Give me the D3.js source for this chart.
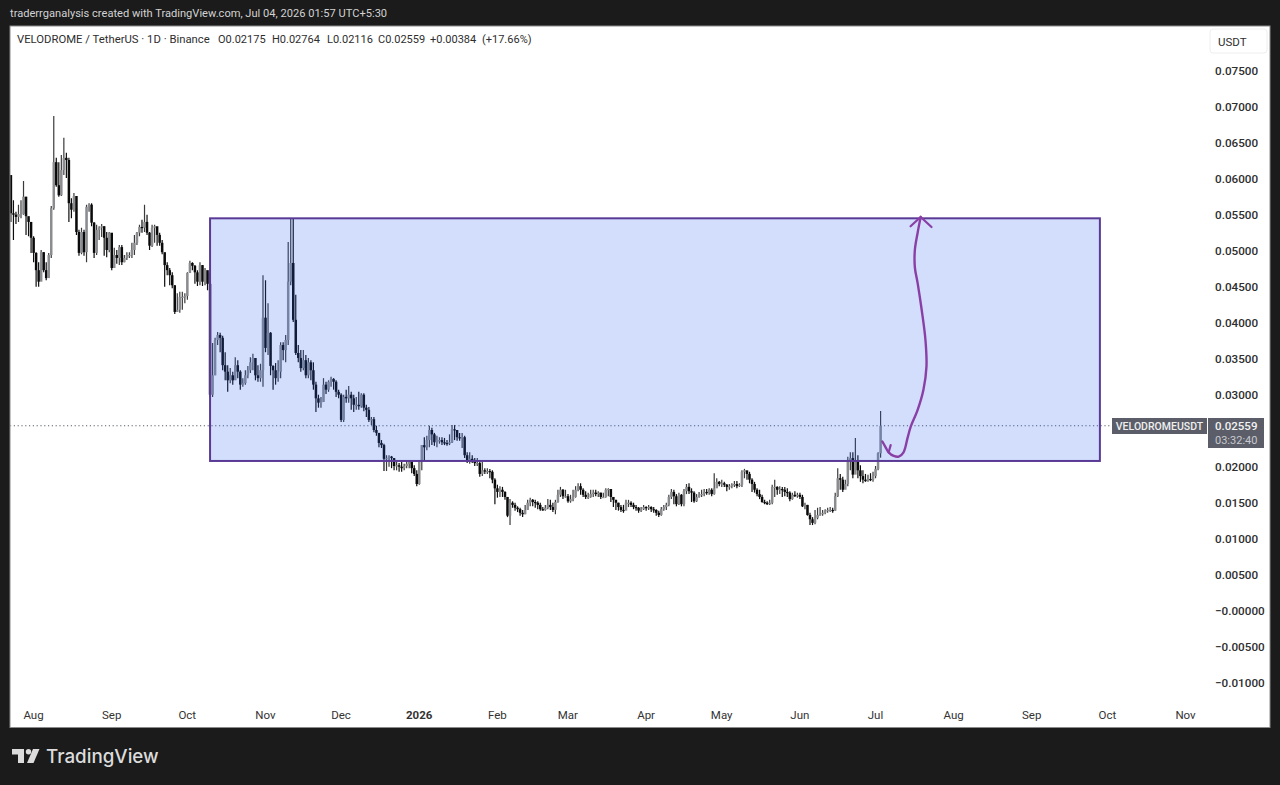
<!DOCTYPE html>
<html><head><meta charset="utf-8">
<script src="https://cdn.jsdelivr.net/npm/d3@7"></script>
<style>html,body{margin:0;padding:0;background:#1b1b1b;overflow:hidden}svg{display:block}</style>
</head><body><svg id="c" width="1280" height="785"></svg>
<script>
const firstDay = "2025-07-23";
const firstOpen = 0.0604;
const closes = [.0551,.0549,.0546,.0550,.0550,.0574,.0547,.0539,.0517,.0496,
.0472,.0456,.0497,.0472,.0461,.0493,.0558,.0622,.0590,.0576,
.0611,.0628,.0625,.0565,.0556,.0575,.0525,.0496,.0525,.0497,
.0560,.0563,.0538,.0496,.0528,.0531,.0533,.0517,.0500,.0524,
.0475,.0493,.0489,.0504,.0483,.0489,.0493,.0493,.0500,.0510,
.0524,.0532,.0531,.0539,.0524,.0506,.0531,.0533,.0521,.0510,
.0497,.0479,.0472,.0465,.0451,.0414,.0417,.0435,.0435,.0436,
.0468,.0482,.0478,.0469,.0456,.0479,.0456,.0472,.0453,.0299,
.0326,.0375,.0382,.0378,.0340,.0331,.0319,.0326,.0319,.0340,
.0331,.0313,.0315,.0326,.0333,.0344,.0350,.0326,.0322,.0333,
.0406,.0364,.0385,.0339,.0333,.0322,.0331,.0368,.0361,.0375,
.0456,.0482,.0403,.0357,.0350,.0336,.0347,.0326,.0344,.0333,
.0313,.0294,.0288,.0289,.0313,.0306,.0317,.0321,.0317,.0303,
.0299,.0264,.0296,.0294,.0299,.0294,.0285,.0285,.0283,.0299,
.0281,.0278,.0264,.0265,.0250,.0246,.0232,.0229,.0210,.0211,
.0213,.0211,.0200,.0201,.0199,.0197,.0200,.0203,.0206,.0197,
.0189,.0175,.0206,.0229,.0226,.0236,.0250,.0244,.0233,.0236,
.0236,.0233,.0232,.0231,.0233,.0251,.0250,.0240,.0239,.0240,
.0215,.0206,.0210,.0207,.0204,.0204,.0189,.0194,.0193,.0193,
.0192,.0181,.0169,.0164,.0167,.0164,.0157,.0131,.0149,.0146,
.0142,.0140,.0135,.0133,.0139,.0149,.0153,.0150,.0149,.0146,
.0140,.0139,.0142,.0146,.0143,.0139,.0150,.0160,.0167,.0158,
.0158,.0151,.0154,.0157,.0167,.0172,.0167,.0160,.0157,.0157,
.0161,.0163,.0161,.0163,.0157,.0157,.0167,.0168,.0157,.0153,
.0149,.0143,.0139,.0138,.0149,.0149,.0146,.0143,.0142,.0138,
.0140,.0143,.0142,.0143,.0140,.0139,.0135,.0132,.0140,.0143,
.0146,.0157,.0164,.0158,.0147,.0160,.0147,.0165,.0171,.0165,
.0163,.0151,.0157,.0160,.0161,.0164,.0163,.0167,.0161,.0169,
.0178,.0175,.0176,.0174,.0171,.0172,.0174,.0175,.0172,.0174,
.0192,.0194,.0189,.0181,.0175,.0167,.0161,.0157,.0150,.0149,
.0147,.0149,.0171,.0171,.0167,.0168,.0167,.0164,.0163,.0154,
.0160,.0158,.0160,.0157,.0144,.0146,.0132,.0126,.0121,.0128,
.0132,.0133,.0135,.0138,.0139,.0139,.0138,.0158,.0183,.0181,
.0167,.0175,.0208,.0211,.0188,.0206,.0194,.0186,.0181,.0179,
.0182,.0181,.0186,.0196,.02175,.02559];
const highs = [.0604,.0569,.0553,.0563,.0569,.0596,.0574,.0544,.0539,.0519,
.0497,.0483,.0500,.0497,.0483,.0496,.0561,.0686,.0628,.0622,
.0632,.0656,.0635,.0628,.0572,.0579,.0558,.0528,.0531,.0528,
.0563,.0565,.0565,.0539,.0535,.0533,.0536,.0533,.0525,.0525,
.0514,.0503,.0500,.0507,.0507,.0493,.0497,.0497,.0510,.0521,
.0525,.0535,.0542,.0563,.0549,.0525,.0535,.0535,.0531,.0524,
.0514,.0496,.0483,.0475,.0469,.0451,.0440,.0442,.0442,.0440,
.0469,.0485,.0483,.0479,.0472,.0483,.0479,.0475,.0469,.0468,
.0371,.0378,.0386,.0385,.0381,.0358,.0340,.0336,.0331,.0351,
.0347,.0333,.0322,.0333,.0339,.0351,.0356,.0350,.0340,.0342,
.0465,.0458,.0426,.0386,.0340,.0343,.0347,.0372,.0372,.0382,
.0511,.0544,.0544,.0438,.0368,.0361,.0361,.0354,.0350,.0347,
.0344,.0317,.0299,.0296,.0322,.0317,.0319,.0324,.0322,.0319,
.0306,.0301,.0299,.0306,.0311,.0303,.0299,.0296,.0303,.0301,
.0301,.0285,.0282,.0268,.0268,.0256,.0246,.0236,.0231,.0215,
.0215,.0214,.0211,.0206,.0204,.0206,.0203,.0208,.0208,.0206,
.0201,.0194,.0208,.0229,.0240,.0242,.0256,.0253,.0246,.0242,
.0240,.0240,.0239,.0236,.0244,.0257,.0257,.0250,.0246,.0246,
.0242,.0219,.0219,.0215,.0211,.0211,.0206,.0206,.0197,.0197,
.0196,.0194,.0183,.0174,.0172,.0171,.0165,.0157,.0154,.0151,
.0149,.0144,.0142,.0139,.0146,.0153,.0156,.0154,.0153,.0151,
.0149,.0143,.0146,.0154,.0153,.0149,.0153,.0167,.0171,.0168,
.0167,.0161,.0160,.0167,.0172,.0176,.0176,.0169,.0165,.0163,
.0167,.0167,.0167,.0165,.0163,.0163,.0169,.0169,.0167,.0156,
.0153,.0149,.0146,.0146,.0153,.0153,.0151,.0149,.0146,.0143,
.0143,.0146,.0144,.0146,.0144,.0143,.0140,.0138,.0143,.0146,
.0149,.0160,.0168,.0167,.0161,.0163,.0161,.0168,.0175,.0176,
.0169,.0165,.0161,.0164,.0167,.0168,.0168,.0169,.0169,.0190,
.0183,.0179,.0181,.0178,.0175,.0175,.0176,.0179,.0179,.0176,
.0194,.0196,.0193,.0192,.0183,.0178,.0169,.0167,.0160,.0153,
.0151,.0153,.0174,.0181,.0172,.0172,.0171,.0171,.0169,.0165,
.0163,.0165,.0163,.0163,.0160,.0149,.0146,.0135,.0129,.0139,
.0142,.0143,.0139,.0140,.0142,.0143,.0142,.0163,.0197,.0189,
.0185,.0181,.0213,.0219,.0219,.0239,.0215,.0201,.0194,.0189,
.0188,.0190,.0192,.0200,.0219,.02764];
const lows = [.0539,.0514,.0536,.0539,.0544,.0549,.0521,.0519,.0496,.0483,
.0449,.0449,.0469,.0469,.0458,.0469,.0489,.0556,.0588,.0574,
.0575,.0604,.0600,.0539,.0544,.0553,.0521,.0492,.0494,.0492,
.0483,.0553,.0533,.0489,.0493,.0514,.0518,.0492,.0490,.0497,
.0472,.0483,.0481,.0479,.0479,.0483,.0486,.0489,.0489,.0493,
.0507,.0519,.0524,.0525,.0521,.0500,.0504,.0510,.0506,.0506,
.0494,.0449,.0465,.0451,.0447,.0411,.0414,.0413,.0417,.0426,
.0431,.0469,.0472,.0453,.0450,.0451,.0450,.0451,.0444,.0296,
.0296,.0326,.0368,.0358,.0333,.0319,.0303,.0315,.0313,.0322,
.0322,.0306,.0310,.0313,.0322,.0329,.0333,.0319,.0317,.0317,
.0310,.0358,.0354,.0326,.0306,.0313,.0317,.0322,.0347,.0344,
.0368,.0451,.0400,.0354,.0344,.0331,.0333,.0322,.0322,.0319,
.0306,.0275,.0281,.0281,.0289,.0300,.0303,.0310,.0306,.0296,
.0294,.0261,.0261,.0288,.0288,.0278,.0275,.0278,.0278,.0281,
.0276,.0268,.0261,.0257,.0247,.0242,.0226,.0225,.0193,.0193,
.0199,.0197,.0194,.0194,.0192,.0192,.0194,.0197,.0197,.0190,
.0186,.0172,.0174,.0194,.0208,.0222,.0226,.0229,.0228,.0226,
.0231,.0229,.0229,.0228,.0229,.0232,.0236,.0235,.0235,.0225,
.0211,.0204,.0203,.0204,.0200,.0200,.0185,.0186,.0189,.0189,
.0183,.0176,.0147,.0156,.0157,.0157,.0153,.0129,.0118,.0142,
.0138,.0136,.0131,.0129,.0133,.0139,.0144,.0144,.0142,.0140,
.0138,.0138,.0138,.0140,.0139,.0136,.0133,.0149,.0157,.0154,
.0156,.0149,.0149,.0151,.0156,.0165,.0160,.0157,.0154,.0154,
.0156,.0157,.0158,.0157,.0154,.0156,.0156,.0158,.0150,.0143,
.0139,.0138,.0136,.0135,.0139,.0143,.0143,.0140,.0138,.0135,
.0136,.0139,.0138,.0139,.0136,.0135,.0131,.0129,.0131,.0138,
.0139,.0144,.0154,.0147,.0144,.0146,.0144,.0144,.0161,.0161,
.0150,.0149,.0150,.0156,.0157,.0158,.0160,.0160,.0158,.0160,
.0174,.0172,.0171,.0171,.0165,.0167,.0169,.0171,.0169,.0171,
.0171,.0183,.0181,.0176,.0164,.0163,.0158,.0154,.0149,.0147,
.0146,.0146,.0147,.0157,.0160,.0161,.0157,.0158,.0157,.0151,
.0153,.0157,.0156,.0154,.0143,.0140,.0131,.0118,.0118,.0119,
.0126,.0131,.0131,.0133,.0135,.0136,.0135,.0138,.0157,.0167,
.0164,.0168,.0172,.0194,.0183,.0194,.0183,.0178,.0176,.0178,
.0178,.0179,.0178,.0183,.0194,.02116];

const priceTicks = [0.075,0.07,0.065,0.06,0.055,0.05,0.045,0.04,0.035,0.03,0.02,0.015,0.01,0.005,0,-0.005,-0.01];
const priceLabels = ["0.07500","0.07000","0.06500","0.06000","0.05500","0.05000","0.04500","0.04000","0.03500","0.03000","0.02000","0.01500","0.01000","0.00500","−0.00000","−0.00500","−0.01000"];
const monthDates = ["2025-08-01","2025-09-01","2025-10-01","2025-11-01","2025-12-01","2026-01-01","2026-02-01","2026-03-01","2026-04-01","2026-05-01","2026-06-01","2026-07-01","2026-08-01","2026-09-01","2026-10-01","2026-11-01"];
const monthLabels = ["Aug","Sep","Oct","Nov","Dec","2026","Feb","Mar","Apr","May","Jun","Jul","Aug","Sep","Oct","Nov"];
const boxDays = ["2025-10-10","2026-09-28"];
const boxPrices = [0.0544,0.0207];
const lastPrice = 0.02559;
// hand-drawn arrow: days after first candle, price
const arrowDays = [345.7,347,348.2,350.2,352.2,354.1,355.7,356.9,359.7,362,363.2,362.8,361.3,359.7,358.6,358.6,359.7,360.9];
const arrowPrices = [.0234,.0226,.0219,.0214,.0213,.0219,.0239,.0254,.0278,.0306,.0338,.0375,.0417,.0454,.0476,.0500,.0524,.0546];
const headDays = [356.9,360.9,365.2];
const headPrices = [.0533,.0546,.0532];
const hookDays = [349,348.2];
const hookPrices = [.0229,.0219];

const titleText = "traderrganalysis created with TradingView.com, Jul 04, 2026 01:57 UTC+5:30";
const legendText = "VELODROME / TetherUS · 1D · Binance";
const legendOHLC = ["O0.02175","H0.02764","L0.02116","C0.02559","+0.00384","(+17.66%)"];
const legendX = [218,272,327,378,430,482];

const FONT = "Roboto, 'Liberation Sans', sans-serif";
const svg = d3.select("#c");
svg.append("rect").attr("width",1280).attr("height",785).attr("fill","#1b1b1b");
svg.append("rect").attr("x",10).attr("y",26).attr("width",1260).attr("height",701.5)
  .attr("fill","#fff").attr("stroke","#8a8a8a").attr("stroke-width",1);

const D = d => new Date(d+"T00:00:00Z");
const x = d3.scaleUtc().domain([D("2025-08-01"),D("2026-11-01")]).range([33.6,1185.6]);
const y = d3.scaleLinear().domain([0,0.05]).range([610,250]);
const dayAt = n => new Date(D(firstDay).getTime()+n*864e5);

const plot = svg.append("g").attr("clip-path","url(#plotClip)");
svg.append("clipPath").attr("id","plotClip").append("rect").attr("x",10.5).attr("y",26).attr("width",1195).attr("height",700);

const candles = closes.map((c,i)=>({i,open:i?closes[i-1]:firstOpen,close:c,high:highs[i],low:lows[i]}));
const UP="#8b8c90", DOWN="#0a0a0a";
const g = plot.selectAll("g.cd").data(candles).join("g").attr("class","cd");
g.append("line").attr("x1",d=>x(dayAt(d.i))).attr("x2",d=>x(dayAt(d.i)))
  .attr("y1",d=>y(d.high)).attr("y2",d=>y(d.low))
  .attr("stroke",d=>d.close>=d.open?"#3a3a3a":"#0d0d0d").attr("stroke-width",1.2);
g.append("rect").attr("x",d=>x(dayAt(d.i))-1.25).attr("width",2.5)
  .attr("y",d=>y(Math.max(d.open,d.close)))
  .attr("height",d=>Math.max(1.2,Math.abs(y(d.open)-y(d.close))))
  .attr("fill",d=>d.close>=d.open?UP:DOWN);

plot.append("line").attr("x1",10).attr("x2",1112).attr("y1",y(lastPrice)).attr("y2",y(lastPrice))
  .attr("stroke","#5b5e69").attr("stroke-width",1).attr("stroke-dasharray","1.2 2.6");

plot.append("rect").attr("x",x(D(boxDays[0]))).attr("width",x(D(boxDays[1]))-x(D(boxDays[0])))
  .attr("y",y(boxPrices[0])).attr("height",y(boxPrices[1])-y(boxPrices[0]))
  .attr("fill","#2962f0").attr("fill-opacity",.21)
  .attr("stroke","#5a3a96").attr("stroke-width",2);

const purple="#8a3fa6";
const mk = () => d3.line().x(d=>x(dayAt(d[0]))).y(d=>y(d[1]));
plot.append("path").attr("d",mk().curve(d3.curveCatmullRom)(d3.zip(arrowDays,arrowPrices)))
  .attr("fill","none").attr("stroke",purple).attr("stroke-width",2.4).attr("stroke-linecap","round");
plot.append("path").attr("d",mk()(d3.zip(headDays,headPrices)))
  .attr("fill","none").attr("stroke",purple).attr("stroke-width",2.2).attr("stroke-linecap","round");
plot.append("path").attr("d",mk()(d3.zip(hookDays,hookPrices)))
  .attr("fill","none").attr("stroke",purple).attr("stroke-width",2.2).attr("stroke-linecap","round");

const yAxis = d3.axisRight(y).tickValues(priceTicks).tickSize(0).tickPadding(0)
  .tickFormat((d,i)=>priceLabels[i]);
const ya = svg.append("g").attr("transform","translate(1215,0.6)").call(yAxis);
ya.select(".domain").remove();
ya.selectAll("text").attr("font-family",FONT).attr("font-size",11.7).attr("font-weight",500).attr("fill","#2e2e2e");

const xAxis = d3.axisBottom(x).tickValues(monthDates.map(D)).tickSize(0).tickPadding(0)
  .tickFormat((d,i)=>monthLabels[i]);
const xa = svg.append("g").attr("transform","translate(-0.6,710.5)").call(xAxis);
xa.select(".domain").remove();
xa.selectAll("text").attr("font-family",FONT).attr("font-size",11.5).attr("fill","#333")
  .attr("font-weight",(d,i)=>monthLabels[i]==="2026"?700:400);

svg.append("text").attr("x",10).attr("y",17).text(titleText)
  .attr("font-family",FONT).attr("font-size",11.1).attr("fill","#d2d2d2");
svg.append("text").attr("x",17).attr("y",43).text(legendText)
  .attr("font-family",FONT).attr("font-size",11.3).attr("fill","#2e2e2e");
legendOHLC.forEach((t,i)=>svg.append("text").attr("x",legendX[i]).attr("y",43).text(t)
  .attr("font-family",FONT).attr("font-size",11).attr("fill","#2e2e2e"));

svg.append("rect").attr("x",1210).attr("y",29).attr("width",57).attr("height",24).attr("rx",3)
  .attr("fill","#fff").attr("stroke","#eeeeee");
svg.append("text").attr("x",1218).attr("y",45.5).text("USDT")
  .attr("font-family",FONT).attr("font-size",11.5).attr("fill","#2e2e2e");

const tag="#5b5e69";
svg.append("rect").attr("x",1112).attr("y",418).attr("width",95).attr("height",16).attr("fill",tag);
svg.append("text").attr("x",1159.5).attr("y",430).attr("text-anchor","middle").text("VELODROMEUSDT")
  .attr("font-family",FONT).attr("font-size",10.5).attr("font-weight",500).attr("fill","#eee");
svg.append("rect").attr("x",1208).attr("y",418).attr("width",56).attr("height",30).attr("fill",tag);
svg.append("text").attr("x",1215).attr("y",429.5).text("0.02559")
  .attr("font-family",FONT).attr("font-size",11.5).attr("font-weight",500).attr("fill","#f2f2f2");
svg.append("text").attr("x",1215).attr("y",444).text("03:32:40")
  .attr("font-family",FONT).attr("font-size",11).attr("fill","#c9c9cf");

const logoC="#dcdcdc";
svg.append("path").attr("d","M12 749H24V763H18V754.5H12Z").attr("fill",logoC);
svg.append("circle").attr("cx",28.5).attr("cy",751.8).attr("r",2.7).attr("fill",logoC);
svg.append("path").attr("d","M33 749H39.5L33.5 763H27Z").attr("fill",logoC);
svg.append("text").attr("x",46).attr("y",763).text("TradingView")
  .attr("font-family","Inter, Roboto, sans-serif").attr("font-size",18.8).attr("font-weight",500).attr("fill",logoC);
</script></body></html>
